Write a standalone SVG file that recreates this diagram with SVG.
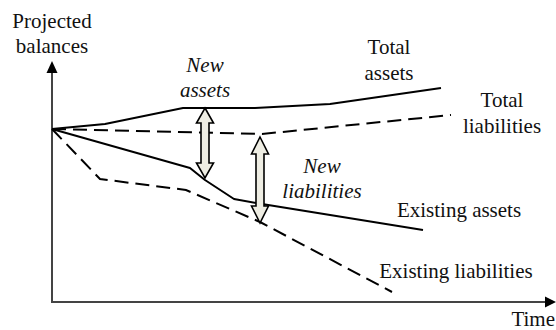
<svg xmlns="http://www.w3.org/2000/svg" width="556" height="330" viewBox="0 0 556 330">
  <style>
    .lbl { font-family: 'Liberation Serif', 'DejaVu Serif', 'Times New Roman', Times, serif; font-size: 21px; fill: #111; text-anchor: middle; }
    .it { font-style: italic; }
    .axis { stroke: #444; stroke-width: 2; fill: none; }
    .solid { stroke: #000; stroke-width: 2; fill: none; stroke-linejoin: round; }
    .dash { stroke: #000; stroke-width: 2; fill: none; stroke-dasharray: 14 7; }
    .dbl { fill: #EEEDE3; stroke: #000; stroke-width: 1.6; stroke-linejoin: miter; }
  </style>
  <rect width="556" height="330" fill="#fff"/>

  <!-- axes -->
  <g id="axes">
    <polyline class="axis" points="52,72 52,302 546,302"/>
    <polygon points="52,61 46.5,73 57.5,73" fill="#000"/>
    <polygon points="556,302 545,296.5 545,307.5" fill="#000"/>
    <text class="lbl" x="52" y="28">Projected</text>
    <text class="lbl" x="52" y="53">balances</text>
    <text class="lbl" x="555" y="326" style="text-anchor:end">Time</text>
  </g>

  <!-- balance lines -->
  <g id="connectors">
    <polyline id="total-assets" class="solid" points="52,129 105,124 183,108 255,108 330,104 441,88"/>
    <polyline id="total-liabilities" class="dash" points="52,129 262,134 451,115"/>
    <polyline id="existing-assets" class="solid" points="52,129 190,168 205,180 234,199 262,204 423,230"/>
    <polyline id="existing-liabilities" class="dash" points="52,129 100,179 186,190 260,222 392,292"/>
  </g>

  <!-- double-headed gap arrows -->
  <g id="new-assets-arrow">
    <polygon class="dbl" points="205,108 213.5,123 209,123 209,163 213.5,163 205,178 196.5,163 201,163 201,123 196.5,123"/>
  </g>
  <g id="new-liabilities-arrow">
    <polygon class="dbl" points="260,137 268.5,154 264,154 264,206 268.5,206 260,223 251.5,206 256,206 256,154 251.5,154"/>
  </g>

  <!-- labels -->
  <g id="label-total-assets">
    <text class="lbl" x="389" y="54">Total</text>
    <text class="lbl" x="389" y="80">assets</text>
  </g>
  <g id="label-total-liabilities">
    <text class="lbl" x="502" y="107">Total</text>
    <text class="lbl" x="502" y="133">liabilities</text>
  </g>
  <g id="label-new-assets">
    <text class="lbl it" x="205" y="72">New</text>
    <text class="lbl it" x="205" y="97">assets</text>
  </g>
  <g id="label-new-liabilities">
    <text class="lbl it" x="322" y="173">New</text>
    <text class="lbl it" x="322" y="198">liabilities</text>
  </g>
  <g id="label-existing-assets">
    <text class="lbl" x="459" y="217">Existing assets</text>
  </g>
  <g id="label-existing-liabilities">
    <text class="lbl" x="456" y="278">Existing liabilities</text>
  </g>
</svg>
